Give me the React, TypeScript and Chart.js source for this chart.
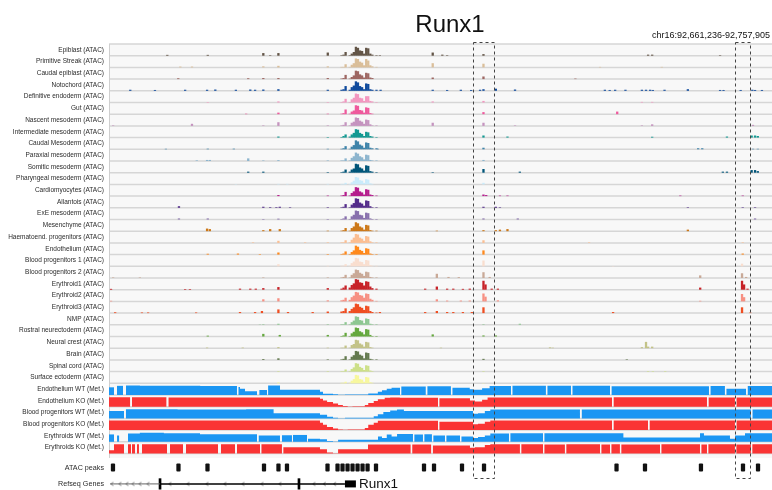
import React, { useEffect, useRef } from "react";
import { Chart, registerables } from "chart.js";

Chart.register(...registerables);

// ---------------- data ----------------
const TITLE = "Runx1";
const REGION_LABEL = "chr16:92,661,236-92,757,905";
const REGION_KB = 96.669; // kb from 92,661,236 to 92,757,905

const atacTracks = [
  "Epiblast", "Primitive Streak", "Caudal epiblast", "Notochord", "Definitive endoderm", "Gut",
  "Nascent mesoderm", "Intermediate mesoderm", "Caudal Mesoderm", "Paraxial mesoderm",
  "Somitic mesoderm", "Pharyngeal mesoderm", "Cardiomyocytes", "Allantois", "ExE mesoderm",
  "Mesenchyme", "Haematoend. progenitors", "Endothelium", "Blood progenitors 1",
  "Blood progenitors 2", "Erythroid1", "Erythroid2", "Erythroid3", "NMP",
  "Rostral neurectoderm", "Neural crest", "Brain", "Spinal cord", "Surface ectoderm",
];
const atacColors = [
  "#635547", "#DABE99", "#9e6762", "#0F4A9C", "#F397C0", "#EF5A9D", "#C594BF", "#139992",
  "#3F84AA", "#8DB5CE", "#005579", "#C9EBFB", "#B51D8D", "#532C8A", "#8870ad", "#cc7818",
  "#FBBE92", "#ff891c", "#f9decf", "#c9a997", "#C72228", "#f79083", "#EF4E22", "#8EC792",
  "#65A83E", "#C3C388", "#647a4f", "#CDE088", "#f7f79e",
];

// shared bins (kb) of the promoter peak cluster
const clusterKb = [31.9, 33.9, 34.2, 34.5, 35.1, 35.4, 35.7, 36.0, 36.3, 36.6, 36.9, 37.2, 37.5, 37.8, 38.1, 38.4, 39.0];
// heights (fraction of track) per track for each cluster bin
const clusterHeights = [
  [.3, .05, .1, .35, .05, .2, .35, .85, .75, .5, .45, .2, .75, .7, .2, .1, .05],
  [.1, .05, .05, .3, .05, .25, .4, .85, .8, .55, .45, .2, .8, .65, .2, .1, .05],
  [.1, .05, .1, .4, .05, .2, .35, .8, .75, .45, .35, .15, .6, .55, .15, .1, 0],
  [.1, .1, .15, .45, .1, .35, .5, .9, .8, .45, .35, .15, .7, .65, .15, .1, .1],
  [.05, .05, .1, .35, .05, .3, .45, .85, .8, .45, .4, .15, .6, .6, .15, .1, .05],
  [.05, .05, .1, .45, .05, .25, .35, .85, .8, .4, .35, .15, .65, .6, .1, .05, 0],
  [.05, .05, .1, .35, .05, .3, .4, .8, .75, .5, .4, .2, .6, .55, .15, .05, .05],
  [.05, .05, .15, .3, .1, .3, .45, .8, .75, .45, .35, .15, .55, .5, .15, .1, .05],
  [.05, .05, .1, .3, .05, .25, .4, .85, .75, .45, .35, .15, .65, .6, .15, .1, .1],
  [.05, .05, .05, .25, .05, .3, .45, .8, .7, .45, .35, .15, .6, .55, .1, .05, .05],
  [.05, .05, .1, .3, .1, .3, .4, .85, .8, .5, .4, .2, .7, .65, .15, .1, .05],
  [.05, .05, .05, .15, .05, .2, .35, .7, .65, .4, .35, .15, .5, .45, .1, .05, 0],
  [.05, .05, .1, .4, .05, .3, .45, .85, .8, .45, .35, .15, .65, .6, .15, .1, .05],
  [.05, .05, .1, .35, .05, .3, .45, .9, .85, .5, .4, .2, .7, .65, .15, .05, .05],
  [.05, .05, .1, .3, .05, .3, .45, .85, .8, .45, .4, .15, .65, .6, .1, .05, .05],
  [.05, .05, .1, .3, .05, .3, .45, .85, .75, .45, .35, .15, .6, .55, .1, .05, .05],
  [.05, .05, .05, .25, .05, .3, .5, .85, .8, .5, .4, .2, .65, .6, .15, .05, .05],
  [.05, .05, .1, .3, .05, .25, .4, .85, .75, .45, .35, .15, .6, .55, .1, .05, .05],
  [.05, .05, .05, .2, .05, .3, .45, .8, .75, .45, .4, .2, .6, .55, .1, .05, .05],
  [.05, .05, .1, .3, .05, .3, .45, .8, .75, .5, .4, .2, .6, .55, .1, .05, .05],
  [.15, .1, .2, .4, .2, .45, .6, 1, .95, .7, .65, .4, .8, .75, .3, .15, .1],
  [.1, .1, .15, .35, .15, .4, .55, .9, .85, .6, .55, .35, .75, .7, .25, .15, .05],
  [.15, .15, .2, .45, .2, .4, .55, .9, .85, .6, .5, .3, .7, .65, .2, .1, .05],
  [.05, .05, .05, .25, .05, .25, .4, .8, .75, .45, .4, .15, .6, .55, .1, .05, .05],
  [.15, .05, .1, .35, .05, .3, .45, .85, .8, .5, .4, .2, .7, .65, .15, .05, .05],
  [.05, .05, .05, .25, .05, .3, .4, .8, .75, .45, .35, .15, .6, .55, .1, .05, 0],
  [.05, .05, .1, .35, .05, .3, .45, .85, .8, .5, .4, .15, .7, .65, .1, .05, .05],
  [.05, .05, .05, .2, .05, .25, .4, .8, .75, .45, .35, .15, .6, .55, .1, .05, 0],
  [0, .05, .05, .15, .05, .25, .4, .8, .75, .4, .35, .15, .6, .55, .1, .05, 0],
];
// other peaks per track: [kb, height]
const otherPeaks: number[][][] = [
  [[8.5, .08], [14.4, .08], [22.5, .25], [23.5, .05], [24.7, .25], [39.5, .05], [47.2, .3], [48.6, .1], [49.3, .05], [54.6, .15], [78.6, .1], [79.2, .1], [89.1, .05]],
  [[10.4, .08], [12.1, .08], [22.5, .1], [24.7, .15], [47.2, .4], [54.6, .35], [71.6, .05], [80.6, .05]],
  [[10.1, .08], [20.3, .08], [22.5, .1], [24.7, .1], [47.2, .15], [54.6, .25], [68.0, .05]],
  [[3.1, .1], [6.7, .08], [11.1, .1], [14.3, .1], [15.5, .12], [18.5, .1], [20.6, .12], [21.3, .1], [22.5, .12], [24.7, .15], [39.6, .1], [47.2, .1], [49.3, .08], [51.3, .1], [52.8, .08], [54.1, .1], [54.6, .15], [56.4, .2], [59.2, .12], [72.3, .1], [73.0, .08], [73.8, .1], [75.3, .1], [77.7, .1], [78.3, .1], [78.9, .1], [79.3, .08], [81.0, .1], [84.4, .15], [89.1, .08], [89.6, .08], [92.1, .08], [93.8, .1], [94.2, .08], [95.2, .08]],
  [[14.4, .05], [24.7, .1], [47.2, .1], [54.6, .15], [77.7, .06], [79.2, .06]],
  [[20.0, .05], [24.7, .15], [54.6, .2], [74.1, .25]],
  [[0.6, .05], [12.1, .2], [22.5, .05], [24.7, .35], [47.2, .3], [54.6, .3], [59.2, .05], [77.7, .05], [79.2, .15], [93.9, .1]],
  [[24.7, .1], [54.6, .2], [58.1, .1], [79.2, .08], [90.1, .1], [93.7, .2], [94.2, .2], [94.6, .15]],
  [[8.3, .05], [14.4, .06], [18.2, .06], [39.2, .05], [54.6, .15], [85.9, .1], [86.5, .1], [93.9, .05], [94.6, .05]],
  [[12.8, .06], [14.3, .1], [14.7, .1], [20.3, .25], [22.5, .05], [24.7, .08], [54.6, .1]],
  [[20.3, .1], [22.5, .1], [47.2, .05], [54.6, .35], [59.9, .1], [89.5, .1], [90.1, .1], [93.7, .25], [94.2, .25], [94.6, .15]],
  [[18.5, .03], [24.7, .05], [26.0, .05], [54.6, .15]],
  [[24.7, .1], [54.6, .15], [55.0, .1], [57.0, .05], [58.1, .05], [83.3, .05], [92.4, .05]],
  [[10.2, .15], [22.5, .1], [23.5, .06], [24.4, .06], [24.9, .1], [26.4, .05], [54.6, .1], [56.4, .1], [57.0, .05], [84.4, .05], [92.4, .05], [94.2, .05]],
  [[10.2, .1], [14.4, .1], [22.5, .05], [24.7, .08], [54.6, .1], [59.6, .1], [94.2, .1]],
  [[14.3, .25], [14.7, .2], [22.5, .1], [23.5, .2], [24.9, .2], [47.8, .05], [54.6, .1], [56.4, .1], [57.0, .15], [58.1, .2], [84.4, .15]],
  [[21.0, .05], [24.7, .2], [28.6, .05], [54.6, .25], [70.0, .05], [92.4, .05]],
  [[14.4, .08], [18.8, .1], [22.0, .05], [24.7, .2], [54.6, .4], [92.4, .1]],
  [[24.7, .2], [54.6, .55], [73.5, .03], [92.3, .25]],
  [[0.6, .05], [4.5, .05], [22.5, .05], [47.8, .4], [49.5, .1], [51.0, .08], [54.6, .55], [55.5, .1], [86.2, .25], [92.3, .45], [92.9, .1]],
  [[0.3, .08], [11.1, .06], [11.8, .06], [19.1, .1], [20.6, .1], [21.4, .1], [22.5, .15], [24.7, .25], [46.1, .1], [47.8, .3], [49.3, .1], [50.2, .1], [51.6, .08], [52.6, .1], [54.6, .85], [54.9, .5], [55.8, .1], [56.7, .1], [86.2, .2], [92.3, .85], [92.6, .5], [93.1, .1]],
  [[0.3, .06], [22.5, .2], [24.7, .3], [47.8, .2], [49.3, .08], [51.3, .08], [52.6, .08], [54.6, .75], [54.9, .45], [56.7, .1], [86.2, .06], [92.3, .7], [92.6, .4]],
  [[0.9, .08], [4.8, .06], [5.7, .06], [12.7, .06], [19.1, .1], [21.3, .1], [22.3, .2], [24.7, .35], [26.1, .1], [29.7, .1], [39.5, .1], [46.1, .1], [47.8, .2], [49.3, .1], [50.2, .1], [51.6, .1], [52.9, .1], [54.6, .55], [73.5, .1], [92.3, .55], [93.5, .05]],
  [[22.0, .03], [22.5, .05], [24.7, .1], [54.6, .05], [59.9, .1]],
  [[14.4, .08], [22.5, .25], [24.9, .15], [47.2, .2], [54.6, .1], [56.4, .1]],
  [[14.3, .06], [19.5, .06], [24.7, .1], [48.4, .05], [64.3, .08], [64.7, .05], [77.7, .1], [78.3, .6], [78.6, .15], [79.2, .15]],
  [[22.5, .08], [24.7, .15], [54.6, .1], [75.5, .05]],
  [[24.7, .05], [54.6, .05], [78.6, .05], [79.3, .05], [81.1, .05]],
  [[24.7, .08], [54.6, .03]],
];

const metTracks = [
  "Endothelium WT", "Endothelium KO", "Blood progenitors WT",
  "Blood progenitors KO", "Erythroids WT", "Erythroids KO",
];
const metColors = ["#1b96f3", "#fa3434", "#1b96f3", "#fa3434", "#1b96f3", "#fa3434"];

// methylation: [kb, level] (level holds until next point; null = gap)
const metEndoWT = [[0, .73], [0.73, null], [1.17, .87], [2.04, null], [2.48, .88], [4.5, .9], [13.3, .88], [14.7, .85], [18.66, null], [18.85, .8], [19.1, .75], [19.83, .6], [20.99, .35], [21.58, null], [21.9, .12], [22.31, .47], [23.04, null], [23.2, .8], [24.93, .9], [30.76, .5], [31.2, .3], [32.66, .13], [33.4, .06], [34.4, .03], [37.8, .05], [39.2, .15], [39.8, .3], [40.5, .45], [41.2, .6], [42.0, .7], [42.43, null], [42.6, .8], [46.2, null], [46.4, .82], [49.86, null], [50.05, .8], [52.6, .7], [53.07, .55], [54.4, .5], [55.5, .65], [56.28, .85], [58.61, null], [58.8, .87], [63.71, null], [63.9, .87], [67.36, null], [67.55, .88], [73.05, null], [73.25, .86], [80, .84], [87.48, null], [87.68, .85], [89.81, null], [90.0, .8], [90.54, .6], [92.9, null], [93.1, .85]];
const metEndoKO = [[0, .9], [3.1, null], [3.35, .9], [8.4, null], [8.65, .9], [30.76, .88], [31.2, .75], [31.8, .6], [32.66, .45], [33.4, .3], [34.1, .15], [34.8, .06], [35.5, .03], [37.3, .05], [37.8, .15], [38.6, .35], [39.2, .55], [40.2, .7], [41, .85], [42.4, .88], [46.2, .84], [47.97, null], [48.15, .88], [52.63, .8], [53.36, .6], [54.4, .5], [55.2, .65], [56.28, .88], [73.34, null], [73.55, .9], [87.19, null], [87.4, .88], [91.27, null], [91.47, .88]];
const metBloodWT = [[0, .7], [2.2, null], [2.45, .85], [10, .88], [20, .85], [24, .88], [30.76, .5], [31.8, .35], [32.66, .15], [33.4, .05], [34.4, .02], [38.6, .05], [39.2, .2], [40, .4], [41, .6], [42, .75], [43, .85], [53.07, .7], [53.8, .45], [54.8, .5], [55.6, .7], [56.3, .85], [68.67, null], [68.9, .87], [80, .85], [93.6, null], [93.8, .85]];
const metBloodKO = [[0, .92], [30.76, .9], [31.2, .7], [31.78, .5], [32.66, .3], [33.4, .15], [34.1, .06], [34.8, .03], [37.3, .06], [37.8, .2], [38.6, .5], [39.2, .7], [40.2, .88], [47.97, null], [48.15, .9], [53.07, .8], [53.8, .55], [54.8, .6], [55.6, .8], [56.3, .9], [73.34, null], [73.55, .9], [78.59, null], [78.8, .9], [91.27, null], [91.47, .9]];
const metEryWT = [[0, .7], [0.73, null], [1.17, .6], [1.5, null], [2.77, .75], [4.5, .78], [8, .85], [13.27, .8], [19.1, .72], [21.58, null], [21.8, .7], [22.45, .6], [24.93, null], [25.2, .62], [26.68, null], [26.83, .65], [28.87, null], [29.01, .6], [30.76, .3], [31.78, .25], [32.66, .08], [33.4, .02], [39.22, .2], [39.8, .5], [40.5, .35], [41.2, .7], [42.0, .5], [42.43, .75], [44.32, null], [44.5, .7], [45.78, null], [45.96, .72], [47.09, null], [47.27, .6], [48.99, null], [49.17, .72], [50.01, .6], [51.18, null], [51.36, .7], [53.07, .5], [53.8, .35], [54.8, .45], [55.6, .6], [56.28, .78], [58.32, null], [58.5, .8], [63.28, null], [63.46, .82], [75, .8], [86.17, .4], [86.75, .8], [90.54, .6], [91.27, .3], [92.73, .6], [93.6, .8]];
const metEryKO = [[0, .88], [0.73, .3], [1.6, .88], [2.2, null], [2.77, .88], [3.21, null], [3.35, .88], [3.79, null], [4.08, .88], [4.37, null], [4.81, .88], [8.46, null], [8.89, .88], [10.79, null], [11.23, .88], [15.89, null], [16.33, .88], [18.37, null], [18.66, .88], [22.02, null], [22.2, .88], [25.22, null], [25.4, .88], [30.76, .6], [31.78, .4], [32.66, .1], [33.4, .03], [37.76, .4], [38.64, .85], [44, null], [44.2, .85], [47, null], [47.2, .85], [52.63, .75], [53.36, .55], [54.8, .6], [55.6, .8], [56.28, .88], [59.92, null], [60.1, .88], [63.28, null], [63.46, .86], [66.48, null], [66.66, .88], [71.59, null], [71.77, .86], [73.05, null], [73.23, .88], [74.5, null], [74.68, .86], [80.34, null], [80.52, .88], [86.17, null], [86.35, .86], [87.19, null], [87.37, .88], [91.27, null], [91.45, .86], [93.6, null], [93.78, .88]];
const metData = [metEndoWT, metEndoKO, metBloodWT, metBloodKO, metEryWT, metEryKO];

const atacPeakKb = [0.58, 10.13, 14.36, 22.6, 24.71, 25.95, 31.86, 33.32, 34.05, 34.78, 35.51, 36.24, 36.97, 37.7, 38.93, 45.93, 47.39, 51.47, 54.68, 74.0, 78.15, 86.31, 92.44, 94.63];

const geneName = "Runx1";
const geneThinKb = [0.15, 7.44];
const geneThickKb = [7.44, 34.4];
const geneBlockKb = [34.4, 36.0];
const geneExonKb = [7.44, 27.7];
const geneArrowKb = [0.44, 1.6, 2.62, 3.5, 4.52, 5.69, 8.89, 11.52, 14.29, 16.91, 19.54, 22.31, 24.93, 29.89, 31.4, 32.9];

const highlightKb = [[53.1, 56.1], [91.3, 93.5]];

// ---------------- layout constants ----------------
const FONT = "'Liberation Sans', Arial, Helvetica, sans-serif";
const N_ATAC = atacTracks.length;
const N_TRACKS = N_ATAC + metTracks.length;
const BG_END_ROW = 35.38;
const PEAK_ROW = 36.2;
const GENE_ROW = 37.6;
const Y_MAX = 38.12;
const FILL = 0.9;

const rowLabels = [
  ...atacTracks.map((n) => n + " (ATAC)"),
  ...metTracks.map((n) => n + " (Met.)"),
  "ATAC peaks",
  "Refseq Genes",
];
const rowValues = [
  ...Array.from({ length: N_TRACKS }, (_, i) => i + 0.5),
  PEAK_ROW,
  GENE_ROW,
];

function stepPoints(points: any[], base: number) {
  const out: any[] = [];
  let prev: number | null = null;
  for (const [kb, v] of points) {
    if (v === null) {
      if (prev !== null) out.push({ x: kb, y: base - prev * FILL });
      out.push({ x: kb, y: null });
      prev = null;
    } else {
      out.push({ x: kb, y: base - v * FILL });
      prev = v;
    }
  }
  if (prev !== null) out.push({ x: REGION_KB, y: base - prev * FILL });
  return out;
}

function makeChevron() {
  const c = document.createElement("canvas");
  c.width = 5;
  c.height = 6;
  const g = c.getContext("2d")!;
  g.strokeStyle = "#555";
  g.lineWidth = 0.9;
  g.beginPath();
  g.moveTo(3.6, 1.2);
  g.lineTo(1.6, 3);
  g.lineTo(3.6, 4.8);
  g.stroke();
  return c;
}

const trackPlugin = {
  id: "tracks",
  beforeDatasetsDraw(chart: any) {
    const { ctx, chartArea } = chart;
    const y = chart.scales.y;
    const top = y.getPixelForValue(0);
    const bgEnd = y.getPixelForValue(BG_END_ROW);
    ctx.save();
    ctx.fillStyle = "#f8f8f8";
    ctx.fillRect(chartArea.left, top, chartArea.right - chartArea.left, bgEnd - top);
    ctx.strokeStyle = "#d6d6d6";
    ctx.lineWidth = 1.5;
    for (let i = 0; i <= N_TRACKS; i++) {
      const py = y.getPixelForValue(i);
      ctx.beginPath();
      ctx.moveTo(chartArea.left, py);
      ctx.lineTo(chartArea.right, py);
      ctx.stroke();
    }
    ctx.strokeStyle = "#cfcfcf";
    ctx.lineWidth = 1;
    ctx.beginPath();
    ctx.moveTo(chartArea.left + 0.5, top);
    ctx.lineTo(chartArea.left + 0.5, bgEnd);
    ctx.stroke();
    ctx.restore();
  },
  afterDraw(chart: any) {
    const { ctx } = chart;
    const x = chart.scales.x;
    const y = chart.scales.y;
    ctx.save();
    // highlight boxes
    ctx.strokeStyle = "#444";
    ctx.lineWidth = 1;
    ctx.setLineDash([3, 3]);
    const y0 = y.getPixelForValue(-0.2);
    const y1 = y.getPixelForValue(37.1);
    for (const [a, b] of highlightKb) {
      const x0 = Math.round(x.getPixelForValue(a)) + 0.5;
      const x1 = Math.round(x.getPixelForValue(b)) + 0.5;
      ctx.strokeRect(x0, Math.round(y0) + 0.5, x1 - x0, Math.round(y1 - y0));
    }
    ctx.setLineDash([]);
    // texts
    ctx.fillStyle = "#111";
    ctx.textBaseline = "alphabetic";
    ctx.textAlign = "center";
    ctx.font = `24px ${FONT}`;
    ctx.fillText(TITLE, 450, 32);
    ctx.textAlign = "right";
    ctx.font = `9px ${FONT}`;
    ctx.fillText(REGION_LABEL, 770, 37.5);
    ctx.textAlign = "left";
    ctx.textBaseline = "middle";
    ctx.font = `13.5px ${FONT}`;
    ctx.fillText(geneName, x.getPixelForValue(geneBlockKb[1]) + 3, y.getPixelForValue(GENE_ROW) + 0.5);
    ctx.restore();
  },
};

export default function App() {
  const ref = useRef<HTMLCanvasElement | null>(null);
  useEffect(() => {
    document.body.style.margin = "0";
    const canvas = ref.current;
    if (!canvas) return;
    const chevron = makeChevron();

    const datasets: any[] = [];
    atacTracks.forEach((_, i) => {
      const base = i + 1;
      const pts: any[] = [];
      clusterKb.forEach((kb, k) => {
        const h = clusterHeights[i][k];
        if (h > 0) pts.push({ x: kb, y: [base, base - h * FILL] });
      });
      otherPeaks[i].forEach(([kb, h]) => pts.push({ x: kb, y: [base, base - h * FILL] }));
      datasets.push({
        type: "bar",
        data: pts,
        backgroundColor: atacColors[i],
        barThickness: 2.3,
        grouped: false,
        borderWidth: 0,
        inflateAmount: 0,
      });
    });
    metData.forEach((pts, j) => {
      const base = N_ATAC + j + 1;
      datasets.push({
        type: "line",
        data: stepPoints(pts, base),
        stepped: "after",
        fill: { value: base },
        backgroundColor: metColors[j],
        borderColor: "rgba(0,0,0,0)",
        borderWidth: 0,
        pointRadius: 0,
        spanGaps: false,
        tension: 0,
      });
    });
    datasets.push({
      type: "bar",
      data: atacPeakKb.map((kb) => ({ x: kb, y: [PEAK_ROW - 0.32, PEAK_ROW + 0.32] })),
      backgroundColor: "#111",
      barThickness: 3.6,
      borderRadius: 1,
      borderSkipped: false,
      grouped: false,
    });
    datasets.push({
      type: "line",
      data: geneThinKb.map((kb) => ({ x: kb, y: GENE_ROW })),
      borderColor: "#666",
      borderWidth: 1,
      pointRadius: 0,
      fill: false,
    });
    datasets.push({
      type: "line",
      data: geneThickKb.map((kb) => ({ x: kb, y: GENE_ROW })),
      borderColor: "#000",
      borderWidth: 1.5,
      pointRadius: 0,
      fill: false,
    });
    datasets.push({
      type: "line",
      data: geneBlockKb.map((kb) => ({ x: kb, y: GENE_ROW })),
      borderColor: "#000",
      borderWidth: 7,
      borderCapStyle: "butt",
      pointRadius: 0,
      fill: false,
    });
    datasets.push({
      type: "bar",
      data: geneExonKb.map((kb) => ({ x: kb, y: [GENE_ROW - 0.45, GENE_ROW + 0.45] })),
      backgroundColor: "#000",
      barThickness: 2,
      grouped: false,
    });
    datasets.push({
      type: "line",
      data: geneArrowKb.map((kb) => ({ x: kb, y: GENE_ROW })),
      showLine: false,
      pointStyle: chevron,
      pointRadius: 3,
      fill: false,
    });

    const chart = new Chart(canvas, {
      type: "bar",
      data: { datasets },
      options: {
        animation: false,
        responsive: false,
        devicePixelRatio: 1,
        events: [],
        layout: { autoPadding: false, padding: { top: 44, left: 0, right: 0, bottom: 0 } },
        plugins: { legend: { display: false }, tooltip: { enabled: false }, title: { display: false } },
        scales: {
          x: { type: "linear", min: 0, max: REGION_KB, display: false, offset: false },
          y: {
            type: "linear",
            reverse: true,
            min: 0,
            max: Y_MAX,
            grid: { display: false, drawTicks: false },
            border: { display: false },
            afterBuildTicks: (scale: any) => {
              scale.ticks = rowValues.map((v) => ({ value: v }));
            },
            afterFit: (scale: any) => {
              scale.width = 109;
              scale.paddingTop = 0;
              scale.paddingBottom = 0;
            },
            ticks: {
              autoSkip: false,
              padding: 5,
              color: "#2a2a2a",
              font: (c: any) => ({ family: FONT, size: c.index >= N_TRACKS ? 7.2 : 6.5 }),
              callback: (_v: any, idx: number) => rowLabels[idx],
            },
          },
        },
      } as any,
      plugins: [trackPlugin],
    });
    return () => chart.destroy();
  }, []);
  return <canvas ref={ref} width={772} height={490} style={{ display: "block" }} />;
}
